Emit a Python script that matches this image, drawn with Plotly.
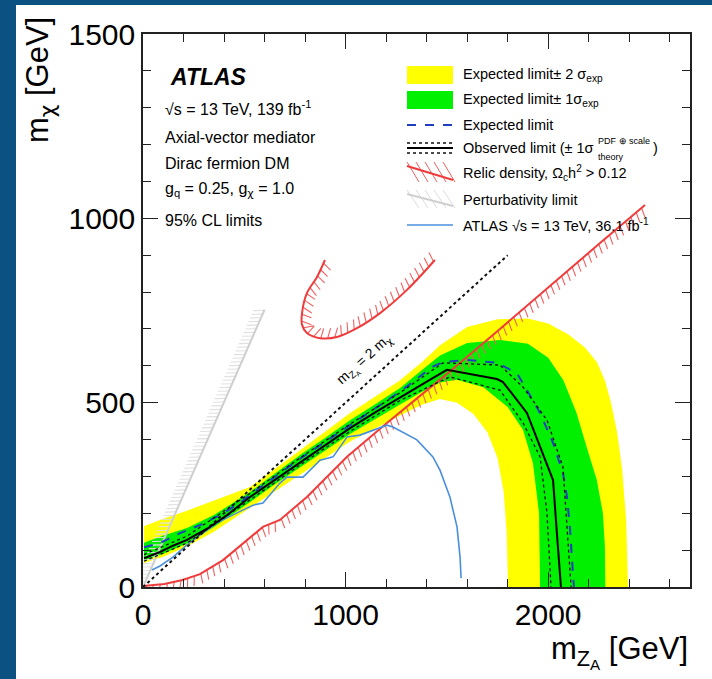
import numpy as np
import plotly.graph_objects as go

# ---------------- data (GeV) ----------------
yellow_out_x = [5, 100, 217, 350, 528, 650, 775, 900, 1022, 1150, 1269, 1380, 1466, 1600, 1750, 1900, 2000, 2100, 2180, 2240, 2280, 2310, 2340, 2365, 2385, 2394]
yellow_out_y = [165, 185, 207, 235, 271, 320, 372, 422, 472, 518, 561, 612, 656, 705, 726, 728, 715, 685, 650, 610, 560, 500, 420, 320, 180, 0]
yellow_in_x = [5, 100, 217, 350, 528, 650, 775, 900, 1022, 1150, 1269, 1380, 1466, 1550, 1630, 1700, 1750, 1780, 1795, 1802]
yellow_in_y = [65, 82, 110, 150, 215, 260, 305, 350, 395, 432, 465, 495, 510, 500, 470, 420, 350, 260, 150, 0]

green_out_x = [5, 100, 217, 350, 528, 650, 775, 900, 1022, 1150, 1269, 1380, 1466, 1600, 1760, 1900, 2000, 2075, 2140, 2190, 2240, 2270, 2280, 2282]
green_out_y = [120, 140, 160, 195, 258, 308, 358, 405, 452, 497, 540, 590, 628, 662, 670, 660, 622, 561, 472, 380, 290, 200, 108, 0]
green_in_x = [5, 100, 217, 350, 528, 650, 775, 900, 1022, 1150, 1269, 1380, 1466, 1550, 1680, 1800, 1876, 1925, 1955, 1960]
green_in_y = [72, 90, 118, 163, 230, 278, 325, 370, 415, 456, 495, 530, 555, 562, 542, 488, 426, 336, 200, 0]

exp_x = [5, 84, 183, 281, 380, 479, 528, 650, 775, 900, 1022, 1150, 1269, 1380, 1431, 1481, 1599, 1747, 1846, 1895, 1960, 2024, 2073, 2093, 2108, 2122, 2127]
exp_y = [108, 119, 146, 168, 195, 228, 250, 298, 348, 394, 440, 486, 530, 575, 598, 610, 616, 608, 580, 534, 472, 391, 309, 244, 155, 38, 0]

obs_x = [5, 84, 148, 217, 316, 415, 528, 650, 775, 900, 1022, 1150, 1269, 1380, 1466, 1500, 1747, 1777, 1895, 2009, 2024, 2043, 2058, 2063]
obs_y = [78, 95, 112, 128, 158, 195, 244, 290, 339, 385, 431, 475, 515, 550, 578, 589, 564, 556, 472, 309, 290, 146, 27, 0]

obs_dn_x = [5, 217, 528, 775, 1022, 1269, 1515, 1762, 1876, 1960, 1994, 2009, 2014]
obs_dn_y = [70, 119, 236, 331, 422, 506, 570, 534, 445, 353, 201, 46, 0]
obs_up_x = [5, 217, 528, 775, 1022, 1269, 1481, 1762, 1876, 1994, 2073, 2108, 2113]
obs_up_y = [88, 138, 254, 350, 442, 527, 608, 602, 542, 453, 325, 46, 0]

relic_lo_x = [0, 106, 195, 281, 395, 494, 592, 676, 809, 1007, 1204, 1402, 1500, 1762, 2043, 2256, 2478]
relic_lo_y = [3, 8, 19, 35, 73, 117, 163, 182, 244, 353, 445, 534, 578, 700, 833, 933, 1036]
relic_u_x = [898, 859, 809, 785, 785, 809, 874, 958, 1056, 1170, 1303, 1441]
relic_u_y = [887, 841, 797, 743, 711, 689, 675, 678, 702, 743, 806, 887]

atl36_x = [44, 84, 148, 217, 281, 365, 464, 543, 592, 676, 711, 790, 874, 938, 987, 1007, 1071, 1135, 1204, 1234, 1352, 1431, 1466, 1515, 1550, 1565, 1570]
atl36_y = [46, 57, 81, 114, 141, 174, 201, 222, 228, 282, 298, 298, 344, 353, 391, 407, 412, 426, 439, 434, 399, 353, 317, 244, 163, 81, 24]

pert_x = [0, 600]
pert_y = [0, 752]
diag_x = [0, 1800]
diag_y = [0, 900]

x_ticks = [0, 1000, 2000]
y_ticks = [0, 500, 1000, 1500]

# ---------------- geometry ----------------
W, H = 712, 679
L, R, T, B = 143, 690, 34, 587
XR = [0, 2700]
YR = [0, 1500]
SX = (R - L) / (XR[1] - XR[0])
SY = (B - T) / (YR[1] - YR[0])
FONT = "Liberation Sans, Arial, Helvetica, sans-serif"
CHI = "<span style='font-family:DejaVu Sans'>χ</span>"


def pp(xp, yp):
    return (xp - L) / (R - L), (B - yp) / (B - T)


def hatch(xs, ys, side, length, spacing, rot):
    X = np.asarray(xs, float) * SX
    Y = np.asarray(ys, float) * SY
    seg = np.hypot(np.diff(X), np.diff(Y))
    s = np.concatenate([[0], np.cumsum(seg)])
    hx, hy = [], []
    a = np.radians(rot)
    for si in np.arange(spacing / 2, s[-1], spacing):
        i = int(min(np.searchsorted(s, si, side="right") - 1, len(seg) - 1))
        if seg[i] == 0:
            continue
        t = (si - s[i]) / seg[i]
        x0 = X[i] + t * (X[i + 1] - X[i])
        y0 = Y[i] + t * (Y[i + 1] - Y[i])
        dx = (X[i + 1] - X[i]) / seg[i]
        dy = (Y[i + 1] - Y[i]) / seg[i]
        nx, ny = (-dy, dx) if side == "left" else (dy, -dx)
        rx = nx * np.cos(a) - ny * np.sin(a)
        ry = nx * np.sin(a) + ny * np.cos(a)
        hx += [x0 / SX, (x0 + rx * length) / SX, None]
        hy += [y0 / SY, (y0 + ry * length) / SY, None]
    return hx, hy


fig = go.Figure()


def line(x, y, color, width, dash="solid", shape="linear"):
    fig.add_trace(go.Scatter(x=x, y=y, mode="lines", hoverinfo="skip", showlegend=False,
                             line=dict(color=color, width=width, dash=dash, shape=shape)))


# bands
for ox, oy, ix, iy, col in [(yellow_out_x, yellow_out_y, yellow_in_x, yellow_in_y, "#ffff00"),
                            (green_out_x, green_out_y, green_in_x, green_in_y, "#00f000")]:
    fig.add_trace(go.Scatter(x=list(ox) + list(ix)[::-1], y=list(oy) + list(iy)[::-1],
                             fill="toself", fillcolor=col, mode="lines", line=dict(width=0, color=col),
                             hoverinfo="skip", showlegend=False))

# perturbativity
hx, hy = hatch(pert_x, pert_y, "left", 11, 4, 25)
line(hx, hy, "#e0e0e0", 1.1)
line(pert_x, pert_y, "#cfcfcf", 2)

# relic density
RED = "#ef3b3b"
hx, hy = hatch(relic_lo_x, relic_lo_y, "right", 10, 7, -20)
line(hx, hy, "#f06060", 1.1)
line(relic_lo_x, relic_lo_y, RED, 2)
hx, hy = hatch(relic_u_x, relic_u_y, "left", 10, 7, -20)
line(hx, hy, "#f06060", 1.1)
line(relic_u_x, relic_u_y, RED, 2, shape="spline")

# previous ATLAS result
line(atl36_x, atl36_y, "#4a8fdd", 1.6)

# diagonal m_Z = 2 m_chi
line(diag_x, diag_y, "#111111", 2, dash="dot")

# limits
line(exp_x, exp_y, "#1f3fbf", 2, dash="dash")
line(obs_dn_x, obs_dn_y, "#111111", 1.3, dash="dot")
line(obs_up_x, obs_up_y, "#111111", 1.3, dash="dot")
line(obs_x, obs_y, "#000000", 2)

ann = []
shapes = []


def text(xp, yp, s, size, xanchor="left", **kw):
    x, y = pp(xp, yp)
    ann.append(dict(x=x, y=y, xref="paper", yref="paper", text=s, showarrow=False,
                    xanchor=xanchor, yanchor="middle",
                    font=dict(family=FONT, size=size, color="black"), **kw))


# dark blue frame strips
x0, y0 = pp(0, 679)
x1, y1 = pp(16, 0)
shapes.append(dict(type="rect", xref="paper", yref="paper", x0=x0, y0=y0, x1=x1, y1=y1,
                   fillcolor="#0b5282", line=dict(width=0), layer="above"))
x0, y0 = pp(0, 5)
x1, y1 = pp(712, 0)
shapes.append(dict(type="rect", xref="paper", yref="paper", x0=x0, y0=y0, x1=x1, y1=y1,
                   fillcolor="#0b5282", line=dict(width=0), layer="above"))

# ATLAS label block
text(168, 77, "<b><i>ATLAS</i></b>", 23)
text(163, 108, "√s = 13 TeV, 139 fb<sup>-1</sup>", 16)
text(163, 137, "Axial-vector mediator", 16)
text(163, 163, "Dirac fermion DM", 16)
text(163, 190, "g<sub>q</sub> = 0.25, g<sub>" + CHI + "</sub> = 1.0", 16)
text(163, 220, "95% CL limits", 16)


def rect(xa, ya, xb, yb, col):
    a, b = pp(xa, ya)
    c, d = pp(xb, yb)
    shapes.append(dict(type="rect", xref="paper", yref="paper", x0=a, y0=d, x1=c, y1=b,
                       fillcolor=col, line=dict(width=0)))


def seg(xa, ya, xb, yb, col, w, dash="solid"):
    a, b = pp(xa, ya)
    c, d = pp(xb, yb)
    shapes.append(dict(type="line", xref="paper", yref="paper", x0=a, y0=b, x1=c, y1=d,
                       line=dict(color=col, width=w, dash=dash)))


# legend
LX0, LX1, TX = 407, 453, 461
rect(LX0, 66, LX1, 84, "#ffff00")
text(TX, 75, "Expected limit± 2 σ<sub>exp</sub>", 14.5)
rect(LX0, 91, LX1, 109, "#00f000")
text(TX, 100, "Expected limit± 1σ<sub>exp</sub>", 14.5)
seg(LX0, 125, LX1, 125, "#1f3fbf", 2, "dash")
text(TX, 125, "Expected limit", 14.5)
seg(LX0, 143, LX1, 143, "#111111", 1.3, "dot")
seg(LX0, 148, LX1, 148, "#000000", 2)
seg(LX0, 153, LX1, 153, "#111111", 1.3, "dot")
text(TX, 148, "Observed limit (± 1σ", 14.5)
text(596, 141, "PDF ⊕ scale", 9)
text(596, 157, "theory", 9)
text(651, 148, ")", 14.5)
for k in range(5):
    seg(LX0 + k * 9, 162, LX0 + k * 9 + 12, 182, "#f06060", 1)
seg(LX0, 166, LX1, 180, RED, 2)
text(TX, 173, "Relic density, Ω<sub>c</sub>h<sup>2</sup> > 0.12", 14.5)
for k in range(5):
    seg(LX0 + k * 9, 190, LX0 + k * 9 + 12, 208, "#dcdcdc", 1)
seg(LX0, 194, LX1, 206, "#cfcfcf", 2)
text(TX, 200, "Perturbativity limit", 14.5)
seg(LX0, 225, LX1, 225, "#4a8fdd", 1.6)
text(TX, 225, "ATLAS √s = 13 TeV, 36.1 fb<sup>-1</sup>", 14.5)

# diagonal label
ann.append(dict(x=1096, y=616, xref="x", yref="y",
                text="m<sub>Z<sub>A</sub></sub> = 2 m<sub>" + CHI + "</sub>",
                showarrow=False, textangle=-42, font=dict(family=FONT, size=14, color="black")))

# axis titles
text(40, 80, "m<sub>" + CHI + "</sub> [GeV]", 31, xanchor="center", textangle=-90)
text(690, 652, "m<sub>Z<sub>A</sub></sub> [GeV]", 31, xanchor="right")

axis_common = dict(showline=True, linecolor="#222222", linewidth=1.5, mirror="ticks",
                   ticks="inside", ticklen=15, tickwidth=1.4, tickcolor="#222222",
                   showgrid=False, zeroline=False,
                   tickfont=dict(family=FONT, size=30, color="black"))

fig.update_layout(
    width=W, height=H, autosize=False,
    margin=dict(l=L, r=W - R, t=T, b=H - B, pad=0),
    paper_bgcolor="white", plot_bgcolor="white",
    xaxis=dict(range=XR, tickvals=x_ticks, ticktext=[str(v) for v in x_ticks],
               minor=dict(ticks="inside", ticklen=8, tickwidth=1.2, tickcolor="#222222", dtick=200, tick0=0),
               **axis_common),
    yaxis=dict(range=YR, tickvals=y_ticks, ticktext=[str(v) for v in y_ticks],
               minor=dict(ticks="inside", ticklen=8, tickwidth=1.2, tickcolor="#222222", dtick=100, tick0=0),
               **axis_common),
    annotations=ann, shapes=shapes,
)

fig.write_html("out.html")
